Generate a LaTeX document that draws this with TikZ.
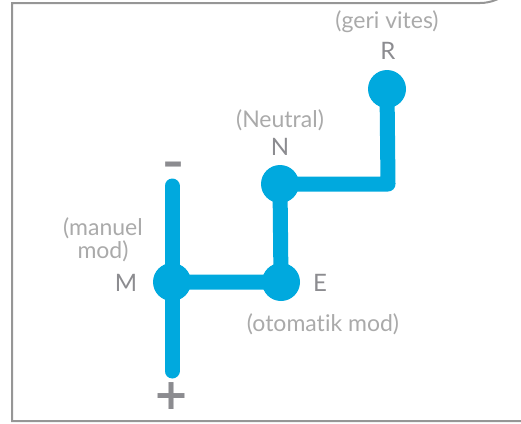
\documentclass[tikz,border=0pt]{standalone}
\usepackage{fontspec}
\setmainfont[Ligatures=NoCommon]{Lato}
\newfontfamily\zeichen{DejaVu Sans}
\usepackage{tikz}
\usetikzlibrary{positioning}

\definecolor{hebel}{RGB}{0,169,222}
\definecolor{rahmen}{RGB}{150,150,150}
\definecolor{schrift}{RGB}{140,140,144}
\definecolor{hinweis}{RGB}{170,170,170}

\begin{document}
\begin{tikzpicture}[%
x=1pt,
y=-1pt,
gang/.style={circle,fill=hebel,inner sep=0pt,minimum size=38pt},
weg/.style={draw=hebel,line width=15pt,line cap=round,line join=round},
buchstabe/.style={text=schrift,font=\fontsize{24}{24}\selectfont,inner sep=0pt},
hinweis/.style={text=hinweis,font=\fontsize{23}{23}\selectfont,inner sep=0pt,align=center},
]
\useasboundingbox (0,0) rectangle (521,423);

%Rahmen
\draw[rahmen,line width=2pt] (523,421) -- (12,421) -- (12,3) -- (480,3)
  arc[start angle=90,end angle=0,radius=42] -- (522,421);

%Punkte
\coordinate (Moben) at (172,186);
\coordinate (Munten) at (172,371);
\coordinate (Ecke) at (388,184);
\node[gang](M) at (172,282){};
\node[gang](E) at (281,282){};
\node[gang](N) at (280,184){};
\node[gang](R) at (387,89){};

%Wege
\draw[weg] (Moben) -- (Munten);
\draw[weg] (M.center) -- (E.center) -- (N.center) -- (Ecke) -- (R.center);

%Beschriftung
\node[buchstabe](Rl) at (388,51){R};
\node[hinweis](Rh) at (387,22){(geri vites)};
\node[buchstabe](Nl) at (280,147){N};
\node[hinweis](Nh) at (280,120){(Neutral)};
\node[buchstabe](Ml) at (126,283){M};
\node[hinweis](Mh) at (103,240){(manuel\\mod)};
\node[buchstabe](El) at (320,283){E};
\node[hinweis](Eh) at (323,324){(otomatik mod)};
\node[buchstabe,anchor=base,font=\fontsize{40}{40}\zeichen\bfseries](minus) at (173,175.5){–};
\node[buchstabe,anchor=base,font=\fontsize{43}{43}\zeichen\bfseries](plus) at (172,409.5){+};

\end{tikzpicture}
\end{document}
